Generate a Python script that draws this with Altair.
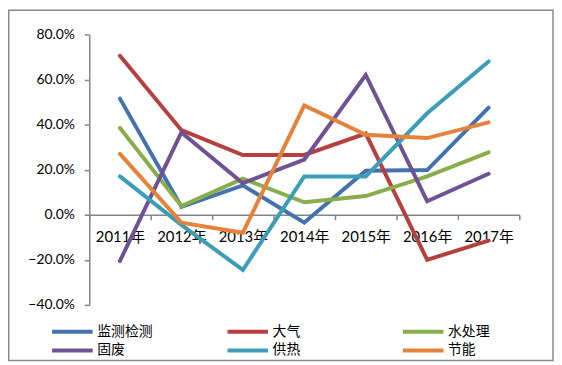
import altair as alt
import pandas as pd

years = ["2011年", "2012年", "2013年", "2014年", "2015年", "2016年", "2017年"]
series_names = ["监测检测", "大气", "水处理", "固废", "供热", "节能"]

jiance = [51.5, 3.5, 13.0, -3.5, 19.5, 19.8, 47.5]
daqi = [70.5, 37.5, 26.5, 26.5, 36.0, -20.0, -11.5]
shuichuli = [38.5, 3.8, 16.0, 5.5, 8.3, 17.0, 27.7]
gufei = [-20.5, 36.5, 14.0, 24.5, 62.0, 6.0, 18.2]
gongre = [17.0, -4.5, -24.5, 17.0, 17.0, 45.0, 68.0]
jieneng = [27.0, -3.5, -8.0, 48.5, 35.5, 34.0, 41.0]

colors = ["#4472AE", "#B6403D", "#88AD4A", "#6F5294", "#3C9DB8", "#E6833A"]
y_ticks = [-0.4, -0.2, 0.0, 0.2, 0.4, 0.6, 0.8]

all_series = [jiance, daqi, shuichuli, gufei, gongre, jieneng]
rows = []
for name, vals in zip(series_names, all_series):
    for yr, v in zip(years, vals):
        rows.append({"年份": yr, "类别": name, "值": v / 100.0})
df = pd.DataFrame(rows)

W, H = 434, 273
y_min, y_max = -0.4, 0.8
zero_offset = -H * (0 - y_min) / (y_max - y_min)

lines = alt.Chart(df).mark_line(strokeWidth=4, strokeCap="round").encode(
    x=alt.X(
        "年份:N", sort=years, bandPosition=0.5,
        scale=alt.Scale(type="band", paddingInner=0, paddingOuter=0),
        axis=alt.Axis(
            title=None, labelAngle=0, tickBand="extent", offset=zero_offset,
            domainColor="#868686", tickColor="#868686", tickSize=5,
            labelFont="Lato, Noto Sans CJK SC", labelFontSize=15, labelColor="black",
            labelPadding=10, domainWidth=1.5, tickWidth=1.5,
        ),
    ),
    y=alt.Y(
        "值:Q",
        scale=alt.Scale(domain=[y_min, y_max], nice=False, zero=False),
        axis=alt.Axis(
            title=None, format=".1%", values=y_ticks, grid=False,
            domainColor="#868686", tickColor="#868686", tickSize=5,
            labelFont="Lato", labelFontSize=14, labelColor="black",
            labelPadding=10, domainWidth=1.5, tickWidth=1.5,
        ),
    ),
    color=alt.Color(
        "类别:N", sort=series_names,
        scale=alt.Scale(domain=series_names, range=colors),
        legend=alt.Legend(
            title=None, orient="none", legendX=-24, legendY=293, columns=3,
            direction="horizontal",
            symbolType="M-5,0H5", symbolSize=67, symbolStrokeWidth=4,
            labelFont="Noto Sans CJK SC", labelFontSize=14, labelColor="black",
            labelOffset=18, columnPadding=67, rowPadding=3, gridAlign="all",
        ),
    ),
)

frame_df = pd.DataFrame({"k": [0]})
frame = alt.Chart(frame_df).mark_rect(
    filled=False, stroke="#888888", strokeWidth=1.5
).encode(
    x=alt.value(-81.25), x2=alt.value(468), y=alt.value(-24.25), y2=alt.value(329)
)

chart = alt.layer(lines, frame).properties(
    width=W, height=H,
    autosize=alt.AutoSizeParams(type="none"),
    padding={"left": 82, "top": 25, "right": 35, "bottom": 57},
).configure_view(strokeWidth=0)

chart.save("out.html", embed_options={"renderer": "svg", "actions": False})
